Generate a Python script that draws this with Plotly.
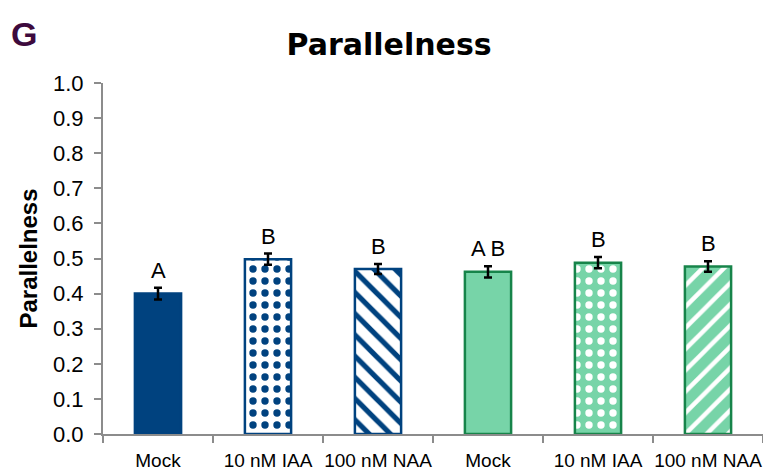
import plotly.graph_objects as go

# Parallelness of each treatment (two genotypes, three treatments each)
categories = ["Mock", "10 nM IAA", "100 nM NAA", "Mock ", "10 nM IAA ", "100 nM NAA "]
tick_labels = ["Mock", "10 nM IAA", "100 nM NAA", "Mock", "10 nM IAA", "100 nM NAA"]
values = [0.40, 0.498, 0.470, 0.462, 0.488, 0.477]
errors = [0.017, 0.016, 0.014, 0.016, 0.016, 0.015]
letters = ["A", "B", "B", "A B", "B", "B"]

BLUE = "#00427F"
GREEN = "#77D4A8"
GREEN_EDGE = "#17844A"
WHITE = "#FFFFFF"

fills = [BLUE, WHITE, WHITE, GREEN, GREEN, GREEN]
edges = [BLUE, BLUE, BLUE, GREEN_EDGE, GREEN_EDGE, GREEN_EDGE]
shapes = ["", ".", "\\", "", ".", "/"]
pattern_fg = [BLUE, BLUE, BLUE, WHITE, WHITE, WHITE]
pattern_size = [10, 12, 15, 10, 12, 15]
solidity = [0.3, 0.3, 0.35, 0.3, 0.3, 0.3]

fig = go.Figure()
for i, cat in enumerate(categories):
    pattern = dict(shape=shapes[i], fgcolor=pattern_fg[i], fgopacity=1,
                   bgcolor=fills[i], size=pattern_size[i], solidity=solidity[i],
                   fillmode="overlay")
    fig.add_trace(go.Bar(
        x=[cat], y=[values[i]],
        width=0.42,
        marker=dict(color=fills[i], line=dict(color=edges[i], width=2.5), pattern=pattern),
        error_y=dict(type="data", array=[errors[i]], color="black", thickness=2.5, width=4),
        showlegend=False,
    ))

for cat, v, e, lab in zip(categories, values, errors, letters):
    fig.add_annotation(x=cat, y=v + e, text=lab, showarrow=False,
                       yanchor="bottom", yshift=3,
                       font=dict(family="Liberation Sans, Arial", size=22, color="black"))

fig.add_annotation(x=0, y=1, xref="paper", yref="paper", xanchor="left", yanchor="top",
                   text="<b>G</b>", showarrow=False, xshift=-94, yshift=70,
                   font=dict(family="Liberation Sans, Arial", size=34, color="#3D0A3D"))

fig.update_layout(
    width=763, height=470,
    margin=dict(l=103, r=0, t=83, b=36),
    paper_bgcolor="white", plot_bgcolor="white",
    barmode="overlay",
    title=dict(text="<b>Parallelness</b>", x=0.51, xanchor="center", y=0.905, yanchor="middle",
               font=dict(family="DejaVu Sans, Liberation Sans", size=30, color="black")),
    font=dict(family="Liberation Sans, Arial", color="black"),
)
fig.update_yaxes(
    range=[0, 1.0], dtick=0.1, tickformat=".1f",
    showline=True, linecolor="#8C8C8C", linewidth=2,
    ticks="outside", ticklen=7, tickcolor="#8C8C8C", tickwidth=1.5,
    showgrid=False, zeroline=False, automargin=False,
    tickfont=dict(family="Liberation Sans", size=22),
    ticklabelstandoff=6,
    title=dict(text="<b>Parallelness</b>", font=dict(family="Liberation Sans, Arial", size=24), standoff=9),
)
fig.update_xaxes(
    tickvals=categories, ticktext=tick_labels,
    showline=True, linecolor="#8C8C8C", linewidth=2,
    ticks="outside", ticklen=7, tickcolor="#8C8C8C", tickwidth=1.5,
    tickson="boundaries", showgrid=False, automargin=False, tickangle=0,
    tickfont=dict(family="Liberation Sans", size=19),
    ticklabelstandoff=8,
)

fig.write_html("out.html")
